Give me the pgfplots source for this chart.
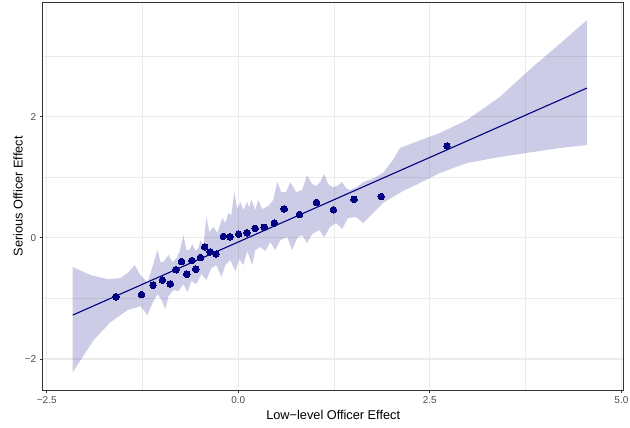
\documentclass[border=0pt]{standalone}
\usepackage{fontspec}
\setmainfont{Liberation Sans}
\usepackage{pgfplots}
\pgfplotsset{compat=1.18}
\definecolor{grey92}{gray}{0.92}
\definecolor{grey20}{gray}{0.2}
\definecolor{grey30}{gray}{0.3}
\definecolor{navyc}{RGB}{0,0,128}
\begin{document}
\begin{tikzpicture}
\useasboundingbox (-42.7bp,-37bp) rectangle (587.3bp,390.3bp);
\begin{axis}[
  at={(0,0)}, anchor=south west,
  scale only axis, width=581bp, height=388bp,
  xmin=-2.553, xmax=5.03, ymin=-2.517, ymax=3.885,
  xtick={-2.5,0,2.5,5}, xticklabels={−2.5,0.0,2.5,5.0},
  ytick={-2,0,2}, yticklabels={−2,0,2},
  minor xtick={-1.25,1.25,3.75}, minor ytick={-1,1,3},
  grid=both,
  major grid style={color=grey92, line width=1.1bp},
  minor grid style={color=grey92, line width=0.55bp},
  tick align=outside, tick pos=left,
  major tick length=3bp, minor tick length=0pt,
  tick style={grey20, line width=0.8bp},
  axis line style={grey20, line width=0.9bp},
  ticklabel style={font=\fontsize{10}{12}\selectfont, text=grey30},
  xlabel={Low−level Officer Effect},
  ylabel={Serious Officer Effect},
  label style={font=\fontsize{12.8}{15}\selectfont, text=black},
  xlabel style={at={(axis description cs:0.5,-0.0644)}, anchor=center},
  ylabel style={at={(axis description cs:-0.0425,0.5)}, anchor=center},
]
% confidence band (upper edge left->right, lower edge right->left)
\addplot[fill=navyc, fill opacity=0.2, draw=none] coordinates {
(-2.161,-0.483) (-1.927,-0.616) (-1.706,-0.682) (-1.536,-0.665) (-1.432,-0.566)
(-1.354,-0.450) (-1.276,-0.616) (-1.185,-0.731) (-1.133,-0.533) (-1.055,-0.203)
(-1.016,-0.401) (-0.977,-0.401) (-0.911,-0.285) (-0.859,-0.401) (-0.807,-0.335)
(-0.768,-0.236) (-0.716,0.045) (-0.677,-0.203) (-0.638,-0.203) (-0.599,-0.104)
(-0.560,-0.219) (-0.521,-0.170) (-0.495,-0.038) (-0.456,-0.137) (-0.417,0.342)
(-0.378,0.094) (-0.326,0.177) (-0.273,0.078) (-0.208,0.325) (-0.169,0.243)
(-0.130,0.408) (-0.091,0.375) (-0.052,0.754) (-0.013,0.474) (0.026,0.589)
(0.065,0.457) (0.117,0.589) (0.143,0.490) (0.169,0.639) (0.221,0.457)
(0.260,0.622) (0.313,0.474) (0.391,0.523) (0.456,0.622) (0.508,0.919)
(0.560,0.754) (0.625,0.754) (0.677,0.919) (0.755,0.754) (0.833,0.787)
(0.898,1.035) (0.964,0.886) (1.016,0.853) (1.068,0.919) (1.120,1.051)
(1.172,0.886) (1.224,0.837) (1.289,0.853) (1.354,0.919) (1.406,0.820)
(1.458,0.787) (1.549,0.837) (1.628,0.919) (1.745,0.969) (1.888,1.068)
(2.018,1.282) (2.109,1.480) (2.279,1.563) (2.630,1.728) (2.982,1.942)
(3.411,2.322) (3.841,2.817) (4.193,3.196) (4.55,3.592)
(4.55,1.530) (4.193,1.480) (3.841,1.414) (3.411,1.332) (2.982,1.233)
(2.630,1.068) (2.370,0.903) (2.148,0.771) (2.018,0.672) (1.888,0.573)
(1.719,0.358) (1.628,0.243) (1.536,0.342) (1.432,0.325) (1.354,0.144)
(1.276,0.243) (1.198,0.177) (1.120,0.012) (1.055,0.127) (0.964,0.061)
(0.898,-0.087) (0.833,0.045) (0.768,-0.005) (0.703,-0.203) (0.638,0.012)
(0.547,-0.038) (0.482,-0.203) (0.417,-0.071) (0.352,-0.219) (0.286,-0.153)
(0.221,-0.203) (0.182,-0.450) (0.117,-0.219) (0.065,-0.450) (0.013,-0.351)
(-0.039,-0.550) (-0.104,-0.368) (-0.169,-0.450) (-0.221,-0.649) (-0.286,-0.450)
(-0.352,-0.500) (-0.417,-0.698) (-0.482,-0.599) (-0.547,-0.764) (-0.612,-0.715)
(-0.664,-0.896) (-0.716,-0.764) (-0.781,-0.880) (-0.846,-0.863) (-0.911,-0.962)
(-0.951,-1.177) (-1.003,-1.028) (-1.055,-0.929) (-1.120,-1.078) (-1.185,-1.276)
(-1.276,-1.127) (-1.445,-1.193) (-1.667,-1.391) (-1.888,-1.688) (-2.057,-2.018)
(-2.161,-2.216)
};
% fitted line
\addplot[navyc, line width=1.1bp] coordinates {(-2.161,-1.276) (4.55,2.470)};
% binned points
\addplot[only marks, mark=*, mark size=3.3bp, mark options={fill=navyc, draw=navyc, line width=0pt}] coordinates {
(-1.598,-0.974) (-1.263,-0.937) (-1.113,-0.782) (-0.990,-0.698) (-0.888,-0.761)
(-0.811,-0.528) (-0.742,-0.393) (-0.673,-0.602) (-0.605,-0.376) (-0.556,-0.520)
(-0.495,-0.327) (-0.439,-0.150) (-0.367,-0.233) (-0.290,-0.269) (-0.195,0.023)
(-0.108,0.017) (0.004,0.058) (0.113,0.083) (0.221,0.155) (0.339,0.172)
(0.471,0.243) (0.599,0.477) (0.798,0.386) (1.020,0.584) (1.241,0.462)
(1.510,0.634) (1.866,0.680) (2.724,1.513)
};
\end{axis}
\end{tikzpicture}
\end{document}
